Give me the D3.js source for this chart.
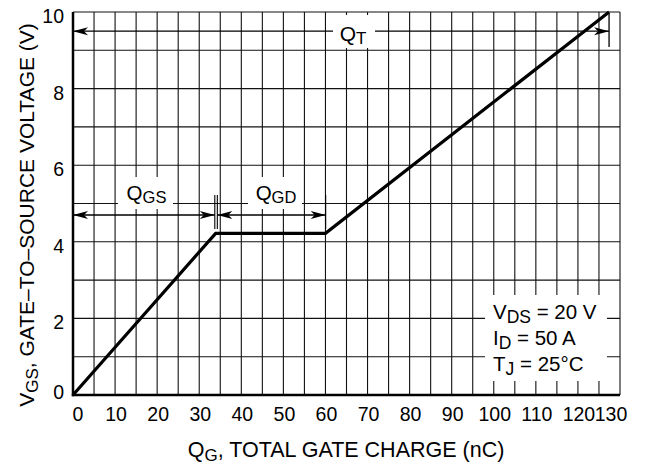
<!DOCTYPE html>
<html>
<head>
<meta charset="utf-8">
<script src="https://d3js.org/d3.v7.min.js"></script>
<style>
  body { margin: 0; background: #fff; }
  text { font-family: "Liberation Sans", Arial, sans-serif; fill: #000; }
</style>
</head>
<body>
<script>
// gate charge curve (nC, V)
var qg  = [0, 33.9, 60, 127.4];
var vgs = [0, 4.22, 4.22, 10];

var xTicks = [0,10,20,30,40,50,60,70,80,90,100,110,120,130];
var yTicks = [0,2,4,6,8,10];

var width = 645, height = 467;
var x = d3.scaleLinear().domain([0,130]).range([73,620]);
var y = d3.scaleLinear().domain([0,10]).range([395,12]);

var svg = d3.select("body").append("svg")
    .attr("width", width).attr("height", height);

// grid: every 5 nC and every 1 V
var g = svg.append("g").attr("stroke", "#111").attr("stroke-width", 1.1);
d3.range(0, 131, 5).forEach(function (v) {
  g.append("line").attr("x1", x(v)).attr("x2", x(v)).attr("y1", y(0)).attr("y2", y(10));
});
d3.range(0, 11, 1).forEach(function (v) {
  g.append("line").attr("x1", x(0)).attr("x2", x(130)).attr("y1", y(v)).attr("y2", y(v));
});

// arrow heads
function head(px, py, dir) {
  var L = 15, H = 4;
  svg.append("path")
    .attr("d", "M" + px + "," + py +
      "L" + (px - dir * L) + "," + (py - H) +
      "L" + (px - dir * (L - 4)) + "," + py +
      "L" + (px - dir * L) + "," + (py + H) + "Z")
    .attr("fill", "#000");
}
function dim(a, b, v) {
  svg.append("line").attr("x1", x(a)).attr("x2", x(b))
    .attr("y1", y(v)).attr("y2", y(v)).attr("stroke", "#000").attr("stroke-width", 1.3);
  head(x(a), y(v), -1);
  head(x(b), y(v), 1);
}

// Q_T dimension line (drawn under its label box)
dim(0, 127.4, 9.5);
svg.append("line").attr("x1", x(127.4)).attr("x2", x(127.4))
  .attr("y1", 13).attr("y2", 47).attr("stroke", "#000").attr("stroke-width", 1.3);

// white boxes behind labels
var boxes = [
  [333, 15, 375, 48],
  [118, 177, 173, 209],
  [248, 177, 302, 209],
  [485, 295, 607, 381]
];
boxes.forEach(function (b) {
  svg.append("rect").attr("x", b[0]).attr("y", b[1])
    .attr("width", b[2] - b[0]).attr("height", b[3] - b[1]).attr("fill", "#fff");
});

// Q_GS and Q_GD dimension lines
dim(0, 33.7, 4.7);
dim(34.3, 60.05, 4.7);
[33.7, 34.3, 60.05].forEach(function (v) {
  svg.append("line").attr("x1", x(v)).attr("x2", x(v))
    .attr("y1", 195).attr("y2", 229).attr("stroke", "#000").attr("stroke-width", 1.1);
});

// curve
var line = d3.line().x(function (d) { return x(d[0]); }).y(function (d) { return y(d[1]); });
svg.append("path")
  .datum(qg.map(function (q, i) { return [q, vgs[i]]; }))
  .attr("d", line)
  .attr("fill", "none").attr("stroke", "#000").attr("stroke-width", 3.2)
  .attr("stroke-linejoin", "miter");

// axes (left and bottom heavy)
svg.append("line").attr("x1", x(0)).attr("x2", x(0)).attr("y1", y(10)).attr("y2", y(0) + 1.2)
  .attr("stroke", "#000").attr("stroke-width", 2.5);
svg.append("line").attr("x1", x(0) - 1.2).attr("x2", x(130)).attr("y1", y(0)).attr("y2", y(0))
  .attr("stroke", "#000").attr("stroke-width", 2.5);

// tick labels (end labels nudged inward, as on the original)
svg.selectAll(".xt").data(xTicks).enter().append("text")
  .attr("x", function (d) { return x(d) + (d === 0 ? 5 : d === 130 ? -9 : 1); })
  .attr("y", 421)
  .attr("text-anchor", "middle").style("font-size", "19.5px")
  .text(function (d) { return d; });
svg.selectAll(".yt").data(yTicks).enter().append("text")
  .attr("x", 64).attr("y", function (d) { return y(d) + (d === 0 ? 4 : 11); })
  .attr("text-anchor", "end").style("font-size", "19.5px")
  .text(function (d) { return d; });

// label helper: main + subscript
function sub(t, px, py, main, s, size, subSize, shift, anchor) {
  var el = svg.append("text").attr("x", px).attr("y", py)
    .attr("text-anchor", anchor || "start").style("font-size", size + "px");
  el.append("tspan").text(main);
  el.append("tspan").attr("dy", shift).style("font-size", subSize + "px").text(s);
  if (t) el.append("tspan").attr("dy", -shift).text(t);
  return el;
}

sub(null, 353, 41, "Q", "T", 21, 17, 3, "middle");
sub(null, 146.5, 200, "Q", "GS", 20.5, 16.5, 3, "middle");
sub(null, 276, 200, "Q", "GD", 20.5, 16.5, 3, "middle");

sub(" = 20 V", 493, 319, "V", "DS", 20.5, 17.5, 4);
sub(" = 50 A", 493, 345, "I", "D", 20.5, 17.5, 4);
sub(" = 25\u00b0C", 493, 371, "T", "J", 20.5, 17.5, 4);

// axis titles
sub(", TOTAL GATE CHARGE (nC)", 346, 457, "Q", "G", 21.5, 17, 4, "middle");
sub(", GATE\u2013TO\u2013SOURCE VOLTAGE (V)", 0, 0, "V", "GS", 21, 17, 4, "middle")
  .attr("transform", "translate(34,215) rotate(-90)");
</script>
</body>
</html>
